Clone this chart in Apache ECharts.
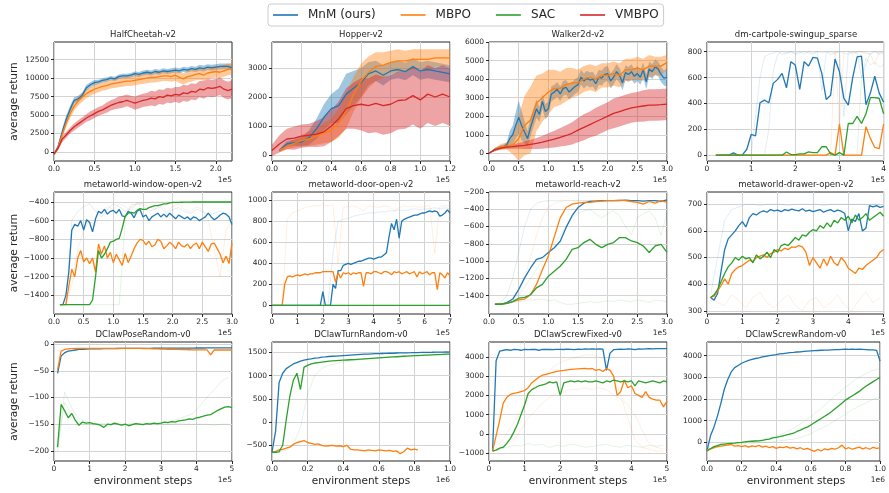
<!DOCTYPE html>
<html>
<head>
<meta charset="utf-8">
<script src="https://cdn.jsdelivr.net/npm/echarts@6/dist/echarts.min.js"></script>
<style>
  html, body { margin: 0; padding: 0; background: #fff; }
  #main { width: 889px; height: 493px; }
</style>
</head>
<body>
<div id="main"></div>
<script>
// ---------- data (x in units of the axis exponent: 1e5 or 1e6) ----------
const methods = ['MnM (ours)', 'MBPO', 'SAC', 'VMBPO'];

// HalfCheetah-v2, x 0..2.2 step 0.05
const hcMnM = [-300,700,2600,4400,5800,7000,7200,7700,8700,9100,9400,9500,9700,9800,10000,9900,10200,10300,10300,10400,10600,10500,10700,10800,10700,10900,10800,11000,10900,11000,11100,11000,11200,11100,11300,11200,11400,11300,11500,11400,11500,11600,11600,11600,11400];
const hcMnMSd = [100,300,500,500,500,400,400,400,400,350,350,300,300,300,300,300,300,300,300,300,300,350,350,350,350,350,350,350,350,350,350,350,350,350,350,350,400,400,400,400,400,400,400,400,400];
const hcMbpo = [-300,600,2300,3900,5200,6200,6900,7400,7900,8200,8500,8700,8900,9000,9200,9300,9400,9500,9600,9600,9700,9800,9900,10000,10100,10100,10200,10300,10300,10200,10400,10100,9900,10200,10300,10500,10600,10400,10700,10800,10900,10800,11000,11200,11300];
const hcMbpoSd = [100,300,500,600,600,600,600,600,600,600,600,600,600,600,600,650,650,650,650,650,650,650,700,700,700,700,700,700,700,700,750,750,750,800,800,800,800,800,800,800,800,800,800,800,800];
const hcVmbpo = [-300,500,1700,2300,2900,3400,3800,4200,4600,4900,5200,5500,5700,6000,6300,6500,6700,6800,7000,6800,6600,6800,7000,7100,7300,7200,7500,7400,7700,7600,7800,7700,8000,7900,8200,8100,8500,8400,8700,8600,8700,8900,8500,8300,8500];
const hcVmbpoSd = [100,300,400,400,400,500,500,500,500,600,600,600,600,700,700,700,800,800,800,800,900,900,900,900,1000,1000,1000,1000,1000,1000,1000,1100,1100,1100,1100,1100,1100,1200,1200,1200,1200,1200,1200,1200,1200];

// Hopper-v2, MnM/MBPO x 0.05..1.2 step 0.05, VMBPO x 0..1.2
const hoMnM = [150,380,420,450,600,900,1300,1600,1700,2100,2300,2500,2800,2900,2750,2900,2950,2880,3050,2900,2950,2900,2850,2800];
const hoMnMSd = [50,100,100,150,250,350,450,500,600,700,600,500,400,350,350,300,300,300,300,300,300,300,300,300];
const hoMbpo = [150,300,400,500,550,650,750,850,1100,1500,2100,2550,2850,3050,3100,3200,3250,3250,3300,3300,3300,3350,3350,3350];
const hoMbpoSd = [50,100,150,200,250,300,350,400,500,600,600,600,550,500,450,400,400,350,350,350,350,300,300,300];
const hoVmbpo = [150,380,550,580,650,680,720,800,1000,1250,1600,1700,1750,1700,1780,1700,1750,1880,1900,2050,1900,2100,2000,2100,2000];
const hoVmbpoSd = [200,300,350,400,400,400,450,500,550,600,700,800,900,950,1000,1000,1000,1000,1000,1000,1000,1000,1000,1000,1000];

// Walker2d-v2, MnM x 0..3 step 0.05, others step 0.1
const waMnM = [0,100,200,270,330,380,450,800,1000,1500,1950,1500,1150,800,1400,1900,2400,2100,2800,2250,2400,3200,3300,3450,3200,3500,3550,3300,3450,3600,3700,4100,3900,4050,3950,4000,3750,4100,4050,4250,4300,3900,4100,4400,4200,3800,4350,4250,4400,4150,4300,4100,4500,3850,4550,4400,4650,4550,4250,4050,4100];
const waMnMSd = [0,50,80,100,100,100,150,400,500,700,900,800,600,400,500,500,500,400,400,400,400,400,400,400,400,400,400,400,400,400,400,400,400,400,400,400,400,400,400,400,400,400,400,400,400,400,400,400,400,400,400,400,400,400,400,400,400,400,400,400,500];
const waMbpo = [0,200,350,400,450,800,1500,1800,2700,3000,3300,3500,3500,3700,3800,3800,4000,4100,4000,4200,4200,4300,4200,4500,4500,4600,4500,4700,4700,4700,4900];
const waMbpoSd = [0,100,150,200,500,1200,1600,1800,1500,1300,1200,1000,900,900,800,700,700,700,700,650,650,650,650,600,600,600,600,600,500,500,400];
const waVmbpo = [0,200,280,330,360,400,430,480,530,600,680,760,860,960,1080,1250,1400,1550,1700,1850,2000,2150,2250,2350,2450,2500,2550,2600,2600,2620,2650];
const waVmbpoSd = [0,50,80,100,120,150,200,250,300,350,400,450,500,550,600,650,700,700,750,750,750,800,800,800,800,800,850,850,850,850,850];

// dm-cartpole-swingup_sparse, x 0.2..4.0 step 0.1
const cpMnM = [0,0,0,0,18,0,3,44,160,150,405,426,405,555,586,632,521,723,697,508,723,689,756,750,632,431,464,743,645,439,387,600,760,765,390,480,610,480,410];
const cpMbpo = [0,0,0,0,0,0,0,0,0,0,0,0,0,0,0,0,0,0,0,0,0,0,0,0,0,0,20,0,240,0,0,0,0,0,220,130,60,50,240];
const cpSac = [0,0,0,0,0,0,0,0,0,0,0,0,0,0,0,0,25,5,5,10,10,25,20,20,65,65,10,0,20,0,245,245,300,245,320,445,445,440,320];
const cpSeedA = [0,0,0,0,0,0,0,0,0,300,600,760,780,790,800,780,790,800,790,800,780,800,790,800,500,790,800,790,800,300,800,790,800,800,790,780,800,790,800];
const cpSeedB = [0,0,0,0,0,0,0,0,0,0,0,0,200,650,780,800,790,800,780,790,800,790,780,800,790,800,780,790,800,790,780,800,790,600,700,790,800,780,790];
const cpSeedO = [0,0,0,0,0,0,0,0,0,0,0,0,0,0,0,0,0,0,0,0,0,0,0,0,0,0,0,800,200,800,800,780,800,790,800,780,700,800,790];
const cpSeedG = [0,0,0,0,0,0,0,0,0,0,0,0,0,0,0,0,0,0,0,0,0,0,0,0,0,0,0,0,0,0,0,0,0,600,750,700,720,680,700];

// metaworld-window-open-v2, x 0.1..3.0 step 0.05
const wiMnM = [-1500,-1500,-1400,-1150,-700,-640,-660,-600,-700,-590,-620,-720,-580,-500,-520,-480,-530,-500,-490,-520,-480,-550,-560,-500,-520,-570,-500,-480,-560,-540,-600,-560,-540,-520,-560,-530,-560,-520,-550,-580,-540,-560,-580,-560,-590,-560,-570,-600,-580,-560,-520,-560,-590,-570,-540,-520,-530,-560,-640];
const wiMbpo = [-1500,-1500,-1500,-1300,-1120,-1200,-1000,-920,-1040,-1000,-1060,-1000,-1150,-850,-960,-870,-1000,-940,-1050,-960,-1020,-1080,-950,-1050,-980,-900,-840,-800,-810,-860,-820,-880,-860,-800,-820,-900,-870,-830,-860,-900,-830,-870,-880,-850,-900,-860,-840,-900,-830,-880,-930,-850,-840,-900,-960,-1050,-980,-1060,-840];
const wiSac = [-1500,-1500,-1500,-1500,-1500,-1500,-1500,-1500,-1500,-1500,-1500,-1450,-1200,-920,-1000,-960,-900,-830,-820,-800,-790,-680,-550,-520,-510,-520,-490,-470,-480,-480,-460,-450,-440,-440,-430,-420,-420,-410,-405,-405,-405,-403,-402,-402,-401,-400,-400,-400,-400,-400,-400,-400,-400,-400,-400,-400,-400,-400,-400];
// faint seeds, x 0.1..3.0 step 0.1
const wiSeedG = [-1500,-1500,-1500,-1500,-1500,-1500,-1500,-1500,-1500,-1500,-1500,-600,-430,-420,-410,-405,-400,-400,-400,-400,-400,-400,-400,-400,-400,-400,-400,-400,-400,-400];
const wiSeedO = [-1500,-1500,-1300,-900,-700,-600,-650,-500,-450,-480,-420,-450,-500,-400,-420,-450,-480,-420,-500,-450,-420,-480,-500,-450,-480,-600,-900,-1200,-700,-600];
const wiSeedB = [-1500,-1500,-600,-500,-450,-420,-500,-560,-480,-420,-450,-500,-460,-420,-440,-500,-480,-450,-520,-480,-460,-500,-520,-480,-500,-540,-520,-500,-540,-560];

// metaworld-door-open-v2, x 0..7 step 0.1
const doMnM = [0,0,0,0,0,0,0,0,0,0,0,0,0,0,0,0,0,0,0,0,130,0,0,0,200,160,330,330,380,390,400,390,400,410,420,420,430,440,450,450,440,450,460,460,480,500,650,780,720,820,640,800,820,830,840,850,860,860,870,880,880,890,900,890,900,890,850,860,880,910,880];
const doMbpo = [0,0,0,0,0,200,270,280,270,280,290,280,290,300,290,300,300,310,310,310,320,320,320,320,320,220,310,260,310,300,310,290,310,300,310,310,180,310,310,300,320,320,310,300,320,320,310,290,320,310,320,300,310,320,300,310,320,270,320,300,310,320,290,310,310,150,310,290,260,310,280];
const doSac = [0,0,0,0,0,0,0,0,0,0,0,0,0,0,0,0,0,0,0,0,0,0,0,0,0,0,0,0,0,0,0,0,0,0,0,0,0,0,0,0,0,0,0,0,0,0,0,0,0,0,0,0,0,0,0,0,0,0,0,0,0,0,0,0,0,0,0,0,0,0,0];
// faint seeds, x 0..7 step 0.2
const doSeedO = [0,0,0,820,880,900,920,940,950,950,960,950,960,400,930,940,950,930,900,950,940,930,950,940,900,930,950,940,950,930,940,950,500,940,950,940];
const doSeedB = [0,0,0,0,0,0,0,0,0,0,0,0,500,800,820,830,850,860,870,880,880,890,890,900,900,910,900,910,920,910,920,920,930,920,930,920];

// metaworld-reach-v2, x 0.1..3.0 step 0.1
const reMnM = [-1500,-1500,-1480,-1440,-1330,-1195,-1080,-980,-960,-900,-845,-770,-610,-475,-380,-330,-310,-305,-300,-300,-300,-300,-295,-300,-300,-305,-300,-300,-310,-290];
const reMbpo = [-1500,-1500,-1490,-1470,-1450,-1440,-1390,-1270,-1100,-940,-720,-500,-380,-340,-330,-320,-320,-310,-305,-300,-300,-295,-300,-310,-320,-340,-310,-330,-300,-320];
const reSac = [-1500,-1500,-1490,-1470,-1430,-1420,-1390,-1310,-1270,-1175,-1117,-1060,-980,-864,-845,-786,-748,-806,-845,-806,-786,-728,-728,-767,-786,-825,-900,-825,-806,-900];
const reSeedB = [-1500,-1480,-1400,-1200,-900,-600,-400,-330,-310,-300,-300,-300,-300,-300,-300,-300,-300,-300,-300,-300,-300,-300,-300,-300,-300,-300,-300,-300,-300,-300];
const reSeedO = [-1500,-1500,-1480,-1450,-1380,-1200,-950,-700,-500,-380,-330,-310,-300,-300,-300,-300,-300,-300,-300,-300,-300,-300,-300,-300,-350,-300,-400,-320,-300,-300];
const reSeedG1 = [-1500,-1500,-1490,-1480,-1470,-1460,-1450,-1450,-1440,-1460,-1450,-1480,-1500,-1500,-1490,-1480,-1470,-1480,-1470,-1460,-1470,-1450,-1460,-1470,-1450,-1460,-1480,-1450,-1460,-1470];
const reSeedG2 = [-1500,-1500,-1480,-1450,-1400,-1300,-1200,-1100,-1000,-900,-800,-700,-600,-500,-450,-420,-400,-450,-500,-450,-420,-480,-600,-700,-500,-450,-420,-500,-700,-450];

// metaworld-drawer-open-v2, x 0.1..5.0 step 0.1
const drMnM = [350,340,365,450,530,570,585,600,620,635,615,650,665,660,670,675,670,680,675,678,672,680,676,682,678,675,683,674,678,672,676,680,670,676,680,672,678,674,665,600,645,635,665,600,610,695,690,695,688,692];
const drMbpo = [350,355,375,395,420,400,440,455,465,470,480,490,485,500,505,510,500,515,520,530,525,535,530,540,538,545,540,520,470,500,480,460,495,470,505,480,470,500,485,460,450,440,460,455,470,480,490,500,520,530];
const drSac = [350,360,380,410,440,465,480,500,490,505,495,500,480,510,495,505,520,500,530,520,545,550,545,560,575,565,585,580,595,605,600,620,610,630,615,640,630,650,640,655,630,660,640,650,665,640,650,660,670,655];
// faint seeds, x 0.1..4.9 step 0.2
const drSeedO = [350,330,320,360,340,310,350,370,330,310,340,360,320,300,340,350,310,330,360,320,300,340,370,330,350];
const drSeedB = [360,500,640,680,690,700,700,695,700,700,700,695,700,700,700,700,695,700,700,700,700,700,700,700,700];

// DClawPoseRandom-v0, x 0.1..5.0 step 0.1
const poMnM = [-55,-22,-16,-13,-12,-11,-10,-10,-9.5,-9,-9,-9,-8.8,-8.6,-8.5,-8.4,-8.3,-8.2,-8.1,-8,-8,-8,-7.9,-7.9,-7.8,-7.8,-7.8,-7.7,-7.7,-7.6,-7.6,-7.5,-7.5,-7.5,-7.4,-7.4,-7.3,-7.3,-7.3,-7.2,-7.2,-7.2,-7.1,-7.1,-7,-7,-7,-7,-7,-7];
const poMbpo = [-48,-13,-10,-9,-8.5,-8.2,-8,-8,-8,-8,-8,-8,-8,-8,-8,-8,-8,-8,-8,-8,-8,-8,-8,-8,-8.2,-8.4,-8.6,-8.8,-9,-9.2,-9.4,-9.6,-9.8,-10,-10,-10.2,-10.4,-10.5,-10.6,-10.7,-10.8,-10.8,-10.9,-20,-11,-11,-11,-11,-11,-11];
const poSac = [-193,-113,-125,-138,-130,-143,-152,-146,-148,-147,-149,-150,-152,-156,-150,-151,-148,-150,-152,-150,-153,-151,-149,-150,-151,-149,-150,-148,-149,-148,-146,-147,-145,-146,-144,-143,-142,-140,-141,-138,-137,-135,-133,-132,-128,-124,-121,-118,-117,-119];
// faint seeds, x 0.1..4.9 step 0.2
const poSeedG1 = [-200,-90,-120,-140,-145,-150,-148,-150,-150,-152,-150,-148,-150,-148,-150,-147,-145,-140,-135,-130,-115,-100,-85,-70,-62];
const poSeedG2 = [-195,-110,-130,-145,-150,-152,-150,-155,-150,-152,-150,-150,-150,-148,-150,-150,-150,-148,-150,-150,-150,-150,-152,-150,-150];

// DClawTurnRandom-v0, x 0..1.0 step 0.02 (1e6)
const tuMnM = [-650,-200,850,1050,1150,1200,1250,1280,1310,1330,1350,1360,1375,1380,1395,1400,1410,1415,1420,1425,1430,1435,1440,1445,1450,1455,1460,1460,1465,1470,1470,1475,1478,1480,1480,1485,1488,1490,1490,1492,1495,1495,1498,1500,1500,1502,1505,1503,1505,1508,1505];
const tuMbpo = [-650,-630,-600,-590,-560,-540,-480,-440,-420,-400,-440,-460,-480,-470,-500,-520,-510,-500,-520,-510,-530,-500,-580,-600,-600,-610,-620,-600,-610,-620,-600,-610,-620,-610,-630,-620,-680,-640,-560,-600,-580,-600];
const tuSac = [-650,-650,-640,-500,50,550,900,1050,700,1180,1220,1250,1270,1280,1290,1300,1310,1315,1320,1325,1330,1335,1340,1345,1350,1355,1360,1365,1370,1375,1380,1385,1390,1395,1400,1405,1410,1415,1420,1425,1430,1430,1435,1440,1440,1445,1450,1450,1455,1460,1460];
// faint seed, x 0..1.0 step 0.04
const tuSeedG = [-650,-640,-600,-500,-100,600,1000,1150,1220,1260,1290,1310,1330,1350,1370,1380,1390,1400,1410,1420,1430,1440,1450,1450,1460,1470];

// DClawScrewFixed-v0, x 0.1..5.0 step 0.1
const sfMnM = [-900,3800,4300,4350,4380,4350,4400,4380,4350,4400,4380,4400,4390,4350,4400,4390,4400,4380,4400,4400,4390,4410,4400,4380,4410,4400,4420,4410,4420,4410,4420,4410,3300,4200,4380,4400,4410,4400,4420,4410,4380,4420,4410,4420,4430,4420,4430,4440,4430,4440];
const sfMbpo = [-900,-100,700,1600,1900,2050,2100,2150,2200,2250,2400,2650,2800,2950,3050,3100,3150,3200,3250,3280,3300,3330,3350,3370,3380,3390,3400,3380,3400,3300,3350,3250,3400,3300,3000,2000,2200,2800,2400,2500,2100,2000,1900,2200,1900,1800,1750,1750,1400,1700];
const sfSac = [-900,-850,-750,-700,-500,-250,100,500,1000,1500,2100,2300,2400,2500,2550,2600,2700,2650,2700,2000,2650,2700,2750,2700,2750,2700,2750,2700,2700,2750,2700,2650,2750,2700,2800,2750,2700,2750,2700,2750,2500,2750,2700,2650,2700,2750,2700,2650,2750,2700];
// faint seeds, x 0.1..4.9 step 0.2
const sfSeedO1 = [-900,-500,0,600,1200,1800,2400,2900,3300,3600,3800,3900,4000,4100,4100,4000,3800,3000,2000,800,-300,-700,-800,-900,-900];
const sfSeedO2 = [-900,-800,-600,-300,200,800,1200,1600,1900,2100,2200,2300,2300,2400,2300,2400,2300,2000,1800,1500,1000,200,-500,-700,-800];
const sfSeedG = [-900,-800,-700,-600,-650,-500,-600,-550,-700,-600,-650,-550,-600,-700,-650,-600,-550,-650,-700,-600,-650,-700,-600,-650,-600];

// DClawScrewRandom-v0, x 0..1.0 step 0.02 (1e6)
const srMnM = [-400,300,700,1200,1800,2450,2900,3250,3450,3550,3650,3720,3780,3830,3870,3900,3940,3970,4000,4030,4050,4080,4100,4120,4140,4150,4170,4180,4200,4210,4220,4230,4240,4250,4260,4260,4270,4280,4280,4290,4300,4290,4300,4290,4300,4290,4280,4270,4270,4250,3750];
const srMbpo = [-350,-300,-250,-200,-180,-150,-130,-100,-180,-150,-200,-150,-220,-160,-200,-140,-220,-180,-250,-200,-280,-220,-250,-200,-270,-230,-300,-250,-330,-280,-350,-420,-330,-400,-300,-350,-280,-320,-250,-130,-300,-250,-320,-270,-220,-300,-250,-320,-230,-280,-260];
const srSac = [-400,-300,-200,-150,-100,-80,-60,-50,-40,-10,0,20,40,50,60,70,90,120,150,200,230,260,300,340,380,420,500,560,640,700,800,900,1000,1100,1200,1300,1420,1550,1680,1800,1950,2050,2150,2250,2350,2480,2600,2700,2800,2900,3000];
// faint seeds, x 0..1.0 step 0.05
const srSeedG1 = [-400,-200,-100,-50,0,50,100,200,300,450,650,900,1200,1500,1850,2200,2550,2850,3100,3300,3400];
const srSeedG2 = [-400,-250,-150,-100,-80,-50,-20,0,50,100,150,250,400,600,800,1050,1300,1550,1750,1950,2100];

// ---------- panel layout & axes ----------
const COLORS = ['#1f77b4', '#ff7f0e', '#2ca02c', '#d62728'];
const colLeft = [54, 272, 489, 707];
const plotW = 178;
const rowTop = [42, 192, 342];
const rowH = [119, 122, 119];

function pts(x0, dx, ys) {
  return ys.map((y, i) => [+(x0 + i * dx).toFixed(4), y]);
}
function seq(a, b, d) {
  const out = [];
  for (let v = a; v <= b + 1e-9; v += d) out.push(+v.toFixed(4));
  return out;
}

const panels = [
  { title: 'HalfCheetah-v2', xMax: 2.2, xTicks: seq(0, 2, 0.5), xDec: 1, exp: '1e5',
    yMin: -1230, yMax: 14900, yTicks: seq(0, 12500, 2500),
    lines: [
      { m: 0, x0: 0, dx: 0.05, y: hcMnM, sd: hcMnMSd },
      { m: 1, x0: 0, dx: 0.05, y: hcMbpo, sd: hcMbpoSd },
      { m: 3, x0: 0, dx: 0.05, y: hcVmbpo, sd: hcVmbpoSd }] },
  { title: 'Hopper-v2', xMax: 1.2, xTicks: seq(0, 1.2, 0.2), xDec: 1, exp: '1e5',
    yMin: -210, yMax: 3900, yTicks: seq(0, 3000, 1000),
    lines: [
      { m: 0, x0: 0.05, dx: 0.05, y: hoMnM, sd: hoMnMSd },
      { m: 1, x0: 0.05, dx: 0.05, y: hoMbpo, sd: hoMbpoSd },
      { m: 3, x0: 0, dx: 0.05, y: hoVmbpo, sd: hoVmbpoSd }] },
  { title: 'Walker2d-v2', xMax: 3, xTicks: seq(0, 3, 0.5), xDec: 1, exp: '1e5',
    yMin: -415, yMax: 6000, yTicks: seq(0, 6000, 1000),
    lines: [
      { m: 0, x0: 0, dx: 0.05, y: waMnM, sd: waMnMSd },
      { m: 1, x0: 0, dx: 0.1, y: waMbpo, sd: waMbpoSd },
      { m: 3, x0: 0, dx: 0.1, y: waVmbpo, sd: waVmbpoSd }] },
  { title: 'dm-cartpole-swingup_sparse', xMax: 4, xTicks: seq(0, 4, 1), xDec: 0, exp: '1e5',
    yMin: -45, yMax: 875, yTicks: seq(0, 800, 200),
    seeds: [
      { m: 0, x0: 0.2, dx: 0.1, y: cpSeedA }, { m: 0, x0: 0.2, dx: 0.1, y: cpSeedB },
      { m: 1, x0: 0.2, dx: 0.1, y: cpSeedO }, { m: 2, x0: 0.2, dx: 0.1, y: cpSeedG }],
    lines: [
      { m: 0, x0: 0.2, dx: 0.1, y: cpMnM },
      { m: 1, x0: 0.2, dx: 0.1, y: cpMbpo },
      { m: 2, x0: 0.2, dx: 0.1, y: cpSac }] },
  { title: 'metaworld-window-open-v2', xMax: 3, xTicks: seq(0, 3, 0.5), xDec: 1, exp: '1e5',
    yMin: -1600, yMax: -293, yTicks: seq(-1400, -400, 200),
    seeds: [
      { m: 2, x0: 0.1, dx: 0.1, y: wiSeedG }, { m: 1, x0: 0.1, dx: 0.1, y: wiSeedO },
      { m: 0, x0: 0.1, dx: 0.1, y: wiSeedB }],
    lines: [
      { m: 0, x0: 0.1, dx: 0.05, y: wiMnM },
      { m: 1, x0: 0.1, dx: 0.05, y: wiMbpo },
      { m: 2, x0: 0.1, dx: 0.05, y: wiSac }] },
  { title: 'metaworld-door-open-v2', xMax: 7, xTicks: seq(0, 7, 1), xDec: 0, exp: '1e5',
    yMin: -83, yMax: 1080, yTicks: seq(0, 1000, 200),
    seeds: [
      { m: 1, x0: 0, dx: 0.2, y: doSeedO }, { m: 0, x0: 0, dx: 0.2, y: doSeedB }],
    lines: [
      { m: 0, x0: 0, dx: 0.1, y: doMnM },
      { m: 1, x0: 0, dx: 0.1, y: doMbpo },
      { m: 2, x0: 0, dx: 0.1, y: doSac }] },
  { title: 'metaworld-reach-v2', xMax: 3, xTicks: seq(0, 3, 0.5), xDec: 1, exp: '1e5',
    yMin: -1613, yMax: -200, yTicks: seq(-1400, -200, 200),
    seeds: [
      { m: 0, x0: 0.1, dx: 0.1, y: reSeedB }, { m: 1, x0: 0.1, dx: 0.1, y: reSeedO },
      { m: 2, x0: 0.1, dx: 0.1, y: reSeedG1 }, { m: 2, x0: 0.1, dx: 0.1, y: reSeedG2 }],
    lines: [
      { m: 0, x0: 0.1, dx: 0.1, y: reMnM },
      { m: 1, x0: 0.1, dx: 0.1, y: reMbpo },
      { m: 2, x0: 0.1, dx: 0.1, y: reSac }] },
  { title: 'metaworld-drawer-open-v2', xMax: 5, xTicks: seq(0, 5, 1), xDec: 0, exp: '1e5',
    yMin: 288, yMax: 746, yTicks: seq(300, 700, 100),
    seeds: [
      { m: 1, x0: 0.1, dx: 0.2, y: drSeedO }, { m: 0, x0: 0.1, dx: 0.2, y: drSeedB }],
    lines: [
      { m: 0, x0: 0.1, dx: 0.1, y: drMnM },
      { m: 1, x0: 0.1, dx: 0.1, y: drMbpo },
      { m: 2, x0: 0.1, dx: 0.1, y: drSac }] },
  { title: 'DClawPoseRandom-v0', xMax: 5, xTicks: seq(0, 5, 1), xDec: 0, exp: '1e5',
    yMin: -219, yMax: 4, yTicks: seq(-200, 0, 50),
    seeds: [
      { m: 2, x0: 0.1, dx: 0.2, y: poSeedG1 }, { m: 2, x0: 0.1, dx: 0.2, y: poSeedG2 }],
    lines: [
      { m: 0, x0: 0.1, dx: 0.1, y: poMnM },
      { m: 1, x0: 0.1, dx: 0.1, y: poMbpo },
      { m: 2, x0: 0.1, dx: 0.1, y: poSac }] },
  { title: 'DClawTurnRandom-v0', xMax: 1, xTicks: seq(0, 1, 0.2), xDec: 1, exp: '1e6',
    yMin: -838, yMax: 1722, yTicks: seq(-500, 1500, 500),
    seeds: [{ m: 2, x0: 0, dx: 0.04, y: tuSeedG }],
    lines: [
      { m: 0, x0: 0, dx: 0.02, y: tuMnM },
      { m: 1, x0: 0, dx: 0.02, y: tuMbpo },
      { m: 2, x0: 0, dx: 0.02, y: tuSac }] },
  { title: 'DClawScrewFixed-v0', xMax: 5, xTicks: seq(0, 5, 1), xDec: 0, exp: '1e5',
    yMin: -1417, yMax: 4780, yTicks: seq(-1000, 4000, 1000),
    seeds: [
      { m: 1, x0: 0.1, dx: 0.2, y: sfSeedO1 }, { m: 1, x0: 0.1, dx: 0.2, y: sfSeedO2 },
      { m: 2, x0: 0.1, dx: 0.2, y: sfSeedG }],
    lines: [
      { m: 0, x0: 0.1, dx: 0.1, y: sfMnM },
      { m: 1, x0: 0.1, dx: 0.1, y: sfMbpo },
      { m: 2, x0: 0.1, dx: 0.1, y: sfSac }] },
  { title: 'DClawScrewRandom-v0', xMax: 1, xTicks: seq(0, 1, 0.2), xDec: 1, exp: '1e6',
    yMin: -863, yMax: 4632, yTicks: seq(0, 4000, 1000),
    seeds: [
      { m: 2, x0: 0, dx: 0.05, y: srSeedG1 }, { m: 2, x0: 0, dx: 0.05, y: srSeedG2 }],
    lines: [
      { m: 0, x0: 0, dx: 0.02, y: srMnM },
      { m: 1, x0: 0, dx: 0.02, y: srMbpo },
      { m: 2, x0: 0, dx: 0.02, y: srSac }] }
];

const FONT = 'DejaVu Sans';
const TXT = '#262626';
const minus = s => s.replace('-', '\u2212');

const option = {
  animation: false,
  textStyle: { fontFamily: FONT },
  legend: {
    left: 268, top: 4,
    data: methods,
    icon: 'rect',
    itemWidth: 25, itemHeight: 1.6, itemGap: 25,
    padding: [5, 5],
    borderColor: '#cccccc', borderWidth: 1, borderRadius: 3,
    backgroundColor: '#fff',
    textStyle: { fontSize: 12, color: TXT, fontFamily: FONT, padding: [0, 0, 0, 5] }
  },
  grid: [], xAxis: [], yAxis: [], series: [], graphic: []
};

panels.forEach((p, i) => {
  const r = Math.floor(i / 4), c = i % 4;
  const left = colLeft[c], top = rowTop[r], h = rowH[r];

  option.grid.push({ left, top, width: plotW, height: h, show: true,
    borderColor: '#262626', borderWidth: 1, backgroundColor: 'transparent' });

  option.xAxis.push({
    type: 'value', gridIndex: i, min: 0, max: p.xMax,
    axisLine: { show: false, onZero: false },
    axisTick: { show: true, length: 3, customValues: p.xTicks, lineStyle: { color: TXT } },
    axisLabel: { customValues: p.xTicks, fontSize: 7.5, color: TXT, margin: 4,
      formatter: v => minus(v.toFixed(p.xDec)) },
    splitLine: { show: true, lineStyle: { color: '#d3d3d3', width: 1 } }
  });
  option.yAxis.push({
    type: 'value', gridIndex: i, min: p.yMin, max: p.yMax,
    axisLine: { show: false, onZero: false },
    axisTick: { show: true, length: 3, customValues: p.yTicks, lineStyle: { color: TXT } },
    axisLabel: { customValues: p.yTicks, fontSize: 7.5, color: TXT, margin: 5,
      formatter: v => minus(String(v)) },
    splitLine: { show: true, lineStyle: { color: '#d3d3d3', width: 1 } }
  });

  // shaded bands (mean +/- spread) drawn as polygons through the axis scales
  p.lines.forEach(ln => {
    if (!ln.sd) return;
    const hi = pts(ln.x0, ln.dx, ln.y.map((v, j) => v + ln.sd[j]));
    const lo = pts(ln.x0, ln.dx, ln.y.map((v, j) => v - ln.sd[j]));
    option.series.push({
      type: 'custom', xAxisIndex: i, yAxisIndex: i, silent: true, z: 1,
      data: [[ln.x0, ln.y[0]]],
      renderItem: (params, api) => {
        const top = hi.map(d => api.coord(d));
        const bot = lo.map(d => api.coord(d)).reverse();
        return { type: 'polygon', shape: { points: top.concat(bot) },
          style: { fill: COLORS[ln.m], opacity: 0.42 } };
      }
    });
  });

  // faint individual seeds
  (p.seeds || []).forEach(sd => {
    option.series.push({
      type: 'line', xAxisIndex: i, yAxisIndex: i,
      data: pts(sd.x0, sd.dx, sd.y), symbol: 'none', silent: true, z: 2,
      lineStyle: { color: COLORS[sd.m], width: 1, opacity: 0.13 }
    });
  });

  // mean curves
  p.lines.forEach(ln => {
    option.series.push({
      name: methods[ln.m], type: 'line', xAxisIndex: i, yAxisIndex: i,
      data: pts(ln.x0, ln.dx, ln.y), symbol: 'none', z: 3,
      color: COLORS[ln.m],
      lineStyle: { color: COLORS[ln.m], width: 1.3 }
    });
  });

  // titles, exponent labels
  option.graphic.push({ type: 'text', x: left + plotW / 2, y: top - 3,
    style: { text: p.title, font: '8.5px "DejaVu Sans"', fill: TXT,
      textAlign: 'center', textVerticalAlign: 'bottom' } });
  option.graphic.push({ type: 'text', x: left + plotW, y: top + h + 19,
    style: { text: p.exp, font: '7.5px "DejaVu Sans"', fill: TXT,
      textAlign: 'right', textVerticalAlign: 'middle' } });

  if (c === 0) {
    option.graphic.push({ type: 'text', x: 14, y: top + h / 2, rotation: Math.PI / 2,
      style: { text: 'average return', font: '10.5px "DejaVu Sans"', fill: TXT,
        textAlign: 'center', textVerticalAlign: 'middle' } });
  }
  if (r === 2) {
    option.graphic.push({ type: 'text', x: left + plotW / 2, y: top + h + 20,
      style: { text: 'environment steps', font: '10.5px "DejaVu Sans"', fill: TXT,
        textAlign: 'center', textVerticalAlign: 'middle' } });
  }
});

const chart = echarts.init(document.getElementById('main'));
chart.setOption(option);
</script>
</body>
</html>
